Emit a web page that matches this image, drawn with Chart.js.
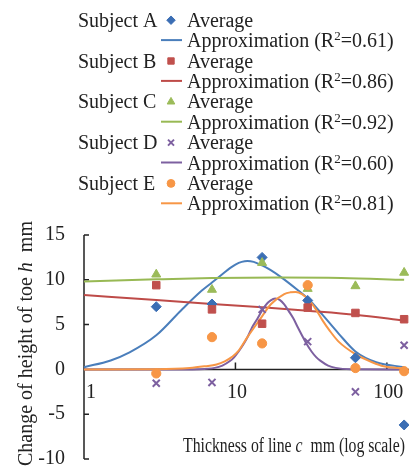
<!DOCTYPE html>
<html>
<head>
<meta charset="utf-8">
<script src="https://cdn.jsdelivr.net/npm/chart.js@4.4.1/dist/chart.umd.min.js"></script>
<style>
  html, body { margin: 0; padding: 0; background: #fff; }
  #chart { display: block; }
</style>
</head>
<body>
<canvas id="chart" width="409" height="470"></canvas>
<script>
// measured averages (x = line thickness in mm, log axis)
const thickness = [3, 7, 15, 30, 62, 130];
const avgA = [7.0, 7.3, 12.5, 7.7, 1.3, -6.2];
const avgB = [9.4, 6.7, 5.1, 6.9, 6.3, 5.6];
const avgC = [10.6, 8.9, 11.9, 9.0, 9.3, 10.8];
const avgD = [-1.55, -1.45, 6.7, 3.1, -2.5, 2.7];
const avgE = [-0.45, 3.6, 2.9, 9.4, 0.15, -0.2];

// approximation curves
const fitA_x = [1, 1.5, 2, 3, 4.5, 6, 7, 8.3, 9.2, 10, 11, 12, 13.2, 15, 17, 20, 26, 31, 38, 48, 62, 85, 130];
const fitA_y = [0.25, 1.0, 1.9, 3.8, 6.8, 8.8, 9.7, 10.7, 11.3, 11.7, 12.0, 12.1, 12.0, 11.6, 11.1, 10.3, 8.8, 7.7, 6.0, 4.0, 2.0, 0.8, 0.25];
const fitB_x = [1, 3, 7, 15, 30, 62, 130];
const fitB_y = [8.3, 7.75, 7.3, 6.95, 6.55, 6.1, 5.45];
const fitC_x = [1, 3, 7, 20, 50, 130];
const fitC_y = [9.8, 10.05, 10.2, 10.25, 10.2, 10.0];
const fitD_x = [1, 4.5, 5.8, 7.3, 8.2, 9.2, 9.8, 10.5, 11.3, 12.1, 12.9, 13.9, 14.9, 15.9, 17.1, 18.3, 19.6, 21, 22.5, 24.1, 25.8, 27.7, 29.6, 31.8, 34, 36.5, 40.9, 45.9, 57.8, 130];
const fitD_y = [0, 0, 0.02, 0.17, 0.43, 0.93, 1.35, 2.0, 2.8, 3.7, 4.7, 5.6, 6.5, 7.2, 7.7, 7.9, 7.75, 7.25, 6.5, 5.7, 4.7, 3.7, 2.8, 2.0, 1.4, 0.95, 0.43, 0.17, 0.02, 0];
const fitE_x = [1, 3, 5, 6.3, 7.5, 8.5, 9.5, 10.4, 12, 14.4, 17.2, 21, 23, 25, 27.5, 30.7, 34, 37.5, 42, 48, 62, 80, 95, 130];
const fitE_y = [0, 0.02, 0.15, 0.35, 0.55, 0.9, 1.4, 2.0, 3.6, 5.5, 7.3, 8.4, 8.6, 8.65, 8.4, 7.7, 6.7, 5.5, 4.3, 3.1, 1.7, 0.8, 0.35, 0.1];

const subjectNames = ['Subject A', 'Subject B', 'Subject C', 'Subject D', 'Subject E'];
const rSquared = ['0.61', '0.86', '0.92', '0.60', '0.81'];
const xTickValues = [1, 10, 100];

const markerColors = ['#3B6EB4', '#C0504D', '#9BBB59', '#7D60A0', '#F79646'];
const lineColors = ['#4A7EBB', '#BE4B48', '#98B954', '#7D60A0', '#F79646'];
const markerStyles = [
    { pointStyle: 'rectRot', radius: 5, borderWidth: 1 },
    { pointStyle: 'rect', radius: 5.3, borderWidth: 1 },
    { pointStyle: 'triangle', radius: 5.2, borderWidth: 1 },
    { pointStyle: 'crossRot', radius: 5, borderWidth: 2 },
    { pointStyle: 'circle', radius: 4.6, borderWidth: 1 }
];

const FONT = '"Liberation Serif", "Times New Roman", serif';
const TEXT = '#222';

function pts(xs, ys) {
    return xs.map((x, i) => ({ x: x, y: ys[i] }));
}

const fits = [[fitA_x, fitA_y], [fitB_x, fitB_y], [fitC_x, fitC_y], [fitD_x, fitD_y], [fitE_x, fitE_y]];
const avgs = [avgA, avgB, avgC, avgD, avgE];

const datasets = [];
fits.forEach((f, i) => {
    datasets.push({
        label: subjectNames[i] + ' approximation',
        data: pts(f[0], f[1]),
        showLine: true,
        borderColor: lineColors[i],
        borderWidth: 2,
        pointRadius: 0,
        cubicInterpolationMode: 'monotone',
        fill: false,
        clip: false,
        order: 14 - i
    });
});
avgs.forEach((a, i) => {
    datasets.push({
        label: subjectNames[i] + ' average',
        data: pts(thickness, a),
        showLine: false,
        pointStyle: markerStyles[i].pointStyle,
        pointRadius: markerStyles[i].radius,
        pointBorderWidth: markerStyles[i].borderWidth,
        backgroundColor: markerColors[i],
        borderColor: markerColors[i],
        clip: false,
        order: 4 - i
    });
});

// text with italic / superscript pieces
function drawRich(ctx, parts, x, y) {
    parts.forEach(p => {
        const size = p.size || 20;
        ctx.font = (p.italic ? 'italic ' : '') + size + 'px ' + FONT;
        ctx.fillText(p.t, x, y - (p.rise || 0));
        x += ctx.measureText(p.t).width;
    });
    return x;
}

function richWidth(ctx, parts) {
    let w = 0;
    parts.forEach(p => {
        ctx.font = (p.italic ? 'italic ' : '') + (p.size || 20) + 'px ' + FONT;
        w += ctx.measureText(p.t).width;
    });
    return w;
}

const decorations = {
    id: 'decorations',
    beforeDatasetsDraw(chart) {
        const ctx = chart.ctx;
        const xs = chart.scales.x, ys = chart.scales.y;
        const area = chart.chartArea;
        const y0 = ys.getPixelForValue(0);
        ctx.save();
        ctx.strokeStyle = TEXT;
        ctx.lineWidth = 1.5;
        ctx.beginPath();
        // y axis line
        ctx.moveTo(area.left, area.top);
        ctx.lineTo(area.left, area.bottom);
        // x axis crossing at zero
        ctx.moveTo(area.left, y0);
        ctx.lineTo(area.right, y0);
        // inward ticks on x
        xTickValues.slice(1).forEach(v => {
            const px = xs.getPixelForValue(v);
            ctx.moveTo(px, y0);
            ctx.lineTo(px, y0 - 7);
        });
        // inward ticks on y
        ys.ticks.forEach(t => {
            const py = ys.getPixelForValue(t.value);
            ctx.moveTo(area.left, py);
            ctx.lineTo(area.left + 5, py);
        });
        ctx.stroke();
        ctx.restore();
    },
    afterDraw(chart) {
        const ctx = chart.ctx;
        const xs = chart.scales.x, ys = chart.scales.y;
        const area = chart.chartArea;
        const y0 = ys.getPixelForValue(0);
        ctx.save();
        ctx.fillStyle = TEXT;
        ctx.font = '20px ' + FONT;

        // y tick labels
        ctx.textAlign = 'right';
        ctx.textBaseline = 'middle';
        ys.ticks.forEach(t => {
            ctx.fillText(String(t.value), area.left - 19, ys.getPixelForValue(t.value));
        });

        // x tick labels
        ctx.textBaseline = 'alphabetic';
        ctx.textAlign = 'center';
        xTickValues.forEach(v => {
            const px = xs.getPixelForValue(v) + (v === 1 ? 7 : 1.5);
            ctx.fillText(String(v), px, y0 + 29);
        });
        ctx.textAlign = 'left';

        // x axis title (condensed in the original)
        const xTitle = [{ t: 'Thickness of line ' }, { t: 'c', italic: true }, { t: '  mm (log scale)' }];
        const xw = richWidth(ctx, xTitle);
        ctx.save();
        ctx.translate(183, 452);
        ctx.scale(222 / xw, 1);
        drawRich(ctx, xTitle, 0, 0);
        ctx.restore();

        // y axis title
        ctx.save();
        ctx.translate(32, 466);
        ctx.rotate(-Math.PI / 2);
        drawRich(ctx, [{ t: 'Change of height of toe ' }, { t: 'h', italic: true }, { t: '  mm' }], 0, 0);
        ctx.restore();

        // legend
        const rowH = 20.4;
        subjectNames.forEach((name, i) => {
            const yName = 26.7 + i * 2 * rowH;
            const yFit = yName + rowH;
            ctx.fillStyle = TEXT;
            drawRich(ctx, [{ t: name }], 78, yName);
            drawRich(ctx, [{ t: 'Average' }], 187, yName);
            drawRich(ctx, [
                { t: 'Approximation (R' },
                { t: '2', size: 13, rise: 7 },
                { t: '=' + rSquared[i] + ')' }
            ], 187, yFit);

            ctx.fillStyle = markerColors[i];
            ctx.strokeStyle = markerColors[i];
            ctx.lineWidth = markerStyles[i].borderWidth;
            Chart.helpers.drawPoint(ctx, {
                pointStyle: markerStyles[i].pointStyle,
                radius: markerStyles[i].radius * 0.85,
                rotation: 0,
                borderWidth: markerStyles[i].borderWidth
            }, 171, yName - 6.5);

            ctx.strokeStyle = lineColors[i];
            ctx.lineWidth = 2;
            ctx.beginPath();
            ctx.moveTo(161, yFit - 7);
            ctx.lineTo(182, yFit - 7);
            ctx.stroke();
        });
        ctx.restore();
    }
};

new Chart(document.getElementById('chart'), {
    type: 'scatter',
    data: { datasets: datasets },
    options: {
        responsive: false,
        animation: false,
        devicePixelRatio: 1,
        events: [],
        layout: { autoPadding: false, padding: { top: 235, right: 0, bottom: 11, left: 0 } },
        plugins: { legend: { display: false }, tooltip: { enabled: false } },
        scales: {
            x: {
                type: 'logarithmic',
                min: 1,
                max: 140,
                ticks: { display: false },
                grid: { display: false },
                border: { display: false },
                afterFit(scale) { scale.height = 0; }
            },
            y: {
                min: -10,
                max: 15,
                ticks: { stepSize: 5, display: false, padding: 0 },
                grid: { display: false },
                border: { display: false },
                afterFit(scale) { scale.width = 84; }
            }
        }
    },
    plugins: [decorations]
});
</script>
</body>
</html>
